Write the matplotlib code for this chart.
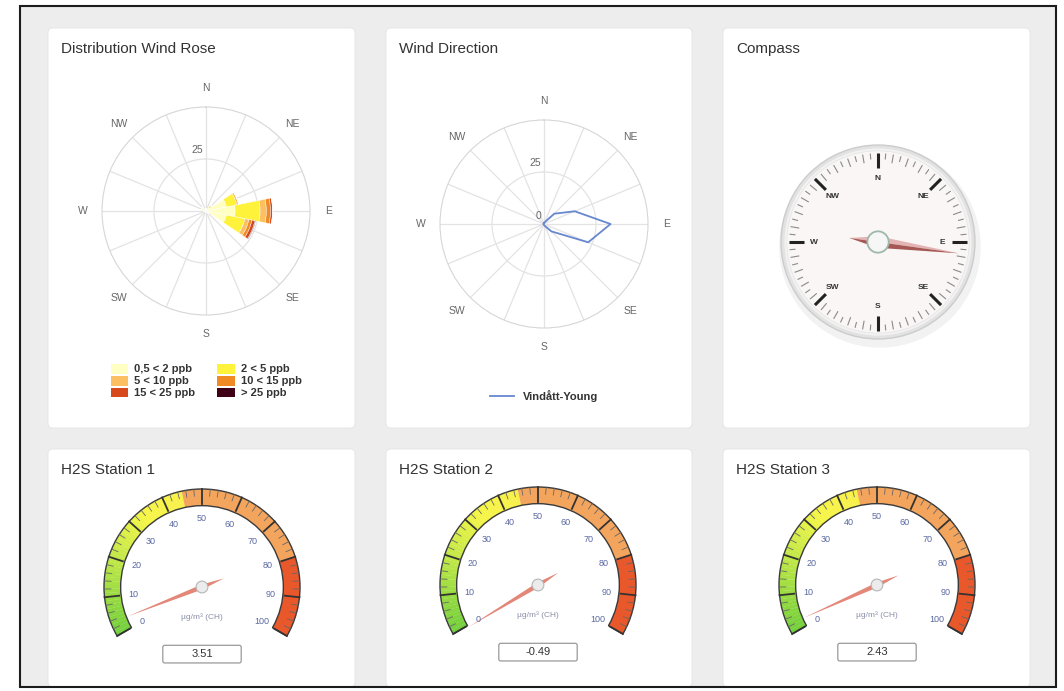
import numpy as np
import matplotlib.pyplot as plt
from matplotlib.patches import FancyBboxPatch, Rectangle, Wedge, Circle, Polygon
from matplotlib.lines import Line2D
from matplotlib.colors import to_rgb

plt.rcParams['font.family'] = ['Liberation Sans', 'DejaVu Sans']

# ---- data ----
directions = ['N', 'NNE', 'NE', 'ENE', 'E', 'ESE', 'SE', 'SSE',
              'S', 'SSW', 'SW', 'WSW', 'W', 'WNW', 'NW', 'NNW']
rose_labels = ['0,5 < 2 ppb', '2 < 5 ppb', '5 < 10 ppb', '10 < 15 ppb', '15 < 25 ppb', '> 25 ppb']
rose_colors = ['#ffffc4', '#fef23a', '#fcc062', '#f08a24', '#d7491c', '#3d0016']
rose_s1 = [1, 1, 2, 10, 14, 10, 1, 0.5, 0.5, 0.5, 0.5, 0.5, 1, 2, 2, 1]
rose_s2 = [0, 0, 1, 5, 12, 9, 0.5, 0, 0, 0, 0, 0, 0, 0.5, 0.5, 0]
rose_s3 = [0, 0, 0.5, 1, 3, 2, 0, 0, 0, 0, 0, 0, 0, 0, 0, 0]
rose_s4 = [0, 0, 0, 0, 2, 1.5, 0, 0, 0, 0, 0, 0, 0, 0, 0, 0]
rose_s5 = [0, 0, 0, 0, 1, 1.5, 0, 0, 0, 0, 0, 0, 0, 0, 0, 0]
rose_s6 = [0, 0, 0, 0, 0, 0.3, 0, 0, 0, 0, 0, 0, 0, 0, 0, 0]
rose_series = [rose_s1, rose_s2, rose_s3, rose_s4, rose_s5, rose_s6]

wind_dir_name = 'Vindått-Young'
wind_dir_values = [0.5, 1, 7, 16, 32, 23, 5, 1, 0.5, 0.3, 0.3, 0.3, 0.3, 0.3, 0.3, 0.3]

compass_heading = 98

gauge_titles = ['H2S Station 1', 'H2S Station 2', 'H2S Station 3']
gauge_values = [3.51, -0.49, 2.43]
gauge_unit = 'µg/m³ (CH)'

W, H = 1064, 691
fig = plt.figure(figsize=(10.64, 6.91), dpi=100)

# ---- background, panels ----
bg = fig.add_axes([0, 0, 1, 1])
bg.set_xlim(0, W)
bg.set_ylim(H, 0)
bg.axis('off')
bg.add_patch(Rectangle((20, 6), 1036, 681, facecolor='#ededed', edgecolor='none'))
panels = [(48, 28, 307, 400), (386, 28, 306, 400), (723, 28, 307, 400),
          (48, 449, 307, 238), (386, 449, 306, 238), (723, 449, 307, 238)]
for (x, y, w, h) in panels:
    bg.add_patch(FancyBboxPatch((x, y), w, h, boxstyle='round,pad=0,rounding_size=5',
                                facecolor='white', edgecolor='#e4e4e4', lw=0.6))
bg.add_patch(Rectangle((20, 6), 1036, 681, fill=False, edgecolor='#1c1c1c', lw=1.5, zorder=10))

titles = ['Distribution Wind Rose', 'Wind Direction', 'Compass'] + gauge_titles
for (x, y, w, h), t in zip(panels, titles):
    bg.text(x + 13, y + 21, t, fontsize=11, color='#333333', va='center', ha='left')


def px_ax(cx, cy, half, **kw):
    return fig.add_axes([(cx - half) / W, 1 - (cy + half) / H, 2 * half / W, 2 * half / H], **kw)


theta = np.deg2rad(np.arange(16) * 22.5)


def setup_polar(ax):
    ax.set_theta_zero_location('N')
    ax.set_theta_direction(-1)
    ax.set_ylim(0, 50)
    ax.set_yticks([25])
    ax.set_yticklabels([])
    ax.set_xticks(theta)
    ax.set_xticklabels([])
    ax.tick_params(length=0)
    ax.grid(color='#e3e3e3', lw=0.9)
    ax.spines['polar'].set_color('#d6d6d6')
    ax.set_axisbelow(True)
    for i, lab in enumerate(['N', 'NE', 'E', 'SE', 'S', 'SW', 'W', 'NW']):
        ax.text(np.deg2rad(i * 45), 59, lab, ha='center', va='center',
                fontsize=7.5, color='#666666', clip_on=False)
    ax.annotate('25', (0, 25), xytext=(-2, 3), textcoords='offset points',
                ha='right', va='bottom', fontsize=7.5, color='#666666')


# ---- wind rose ----
ax1 = px_ax(206, 211, 104, projection='polar')
setup_polar(ax1)
bottom = np.zeros(16)
handles = []
for vals, c, lab in zip(rose_series, rose_colors, rose_labels):
    vals = np.array(vals, dtype=float)
    ax1.bar(theta, vals, width=np.deg2rad(22.5), bottom=bottom, color=c,
            edgecolor='white', linewidth=0.3, zorder=3)
    bottom += vals
    handles.append(Rectangle((0, 0), 1, 1, facecolor=c, edgecolor='none'))
order = [0, 2, 4, 1, 3, 5]
leg = fig.legend([handles[i] for i in order], [rose_labels[i] for i in order], ncol=2,
                 loc='center', bbox_to_anchor=(206 / W, 1 - 381 / H), frameon=False,
                 prop={'size': 8, 'weight': 'bold'}, handlelength=1.6, handleheight=1.0,
                 columnspacing=2.0, labelspacing=0.1, handletextpad=0.5)
for t in leg.get_texts():
    t.set_color('#333333')

# ---- wind direction ----
ax2 = px_ax(544, 224, 104, projection='polar')
setup_polar(ax2)
ax2.annotate('0', (0, 0), xytext=(-2, 2), textcoords='offset points',
             ha='right', va='bottom', fontsize=7.5, color='#666666')
tt = np.append(theta, theta[0])
vv = np.append(wind_dir_values, wind_dir_values[0])
ax2.plot(tt, vv, color='#6787d0', lw=1.3, zorder=4)
leg2 = fig.legend([Line2D([0], [0], color='#6787d0', lw=1.3)], [wind_dir_name],
                  loc='center', bbox_to_anchor=(544 / W, 1 - 396 / H), frameon=False,
                  prop={'size': 8, 'weight': 'bold'}, handlelength=2.2)
for t in leg2.get_texts():
    t.set_color('#333333')

# ---- compass ----
ax3 = px_ax(878, 242, 112)
ax3.set_xlim(-1.155, 1.155)
ax3.set_ylim(-1.155, 1.155)
ax3.axis('off')
ax3.add_patch(Circle((0.02, -0.05), 1.04, facecolor='#000000', alpha=0.05, lw=0))
ax3.add_patch(Circle((0, 0), 1.0, facecolor='#e2e2e2', edgecolor='#cccccc', lw=1))
ax3.add_patch(Circle((0, 0), 0.965, facecolor='#f2f2f2', edgecolor='none'))
ax3.add_patch(Circle((0, 0), 0.94, facecolor='#faf6f6', edgecolor='#e4e4e4', lw=0.5))
for d in range(0, 360, 5):
    if d % 45 == 0:
        continue
    a = np.deg2rad(d)
    r0 = 0.83 if d % 10 == 0 else 0.86
    ax3.plot([r0 * np.sin(a), 0.91 * np.sin(a)], [r0 * np.cos(a), 0.91 * np.cos(a)],
             color='#8a8a8a', lw=0.8)
for i, lab in enumerate(['N', 'NE', 'E', 'SE', 'S', 'SW', 'W', 'NW']):
    a = np.deg2rad(i * 45)
    ax3.plot([0.76 * np.sin(a), 0.92 * np.sin(a)], [0.76 * np.cos(a), 0.92 * np.cos(a)],
             color='#222222', lw=2.2, solid_capstyle='butt')
    ax3.text(0.66 * np.sin(a), 0.66 * np.cos(a), lab, ha='center', va='center',
             fontsize=6, fontweight='bold', color='#333333')
h = np.deg2rad(compass_heading)
u = np.array([np.sin(h), np.cos(h)])
p = np.array([-u[1], u[0]])
tip = 0.84 * u
tail = -0.3 * u
ax3.add_patch(Polygon([tip, 0.06 * p, tail], closed=True, facecolor='#e4b4b4', edgecolor='none'))
ax3.add_patch(Polygon([tip, -0.06 * p, tail], closed=True, facecolor='#a65855', edgecolor='none'))
ax3.add_patch(Circle((0, 0), 0.11, facecolor='#f6f6f6', edgecolor='#9fb8aa', lw=1.3))

# ---- gauges ----
gauge_centers = [(202, 587), (538, 585), (877, 585)]
R_PX = 98


def ang(v):
    return 210 - 240 * v / 100.0


def lerp(c1, c2, t):
    a, b = np.array(to_rgb(c1)), np.array(to_rgb(c2))
    return a + (b - a) * t


stops = [(0, '#72cf3c'), (22, '#c9ea48'), (34, '#f6f547'), (45, '#f8f04a')]


def grad_color(v):
    for (v0, c0), (v1, c1) in zip(stops[:-1], stops[1:]):
        if v0 <= v <= v1:
            return lerp(c0, c1, (v - v0) / (v1 - v0))
    return to_rgb(stops[-1][1])


for (cx, cy), val in zip(gauge_centers, gauge_values):
    ax = px_ax(cx, cy, 120)
    lim = 120 / R_PX
    ax.set_xlim(-lim, lim)
    ax.set_ylim(-lim, lim)
    ax.axis('off')
    r_in = 0.83
    for v in np.arange(0, 45, 1.0):
        ax.add_patch(Wedge((0, 0), 1.0, ang(v + 1.05), ang(v), width=1 - r_in,
                           facecolor=grad_color(v + 0.5), edgecolor='none'))
    ax.add_patch(Wedge((0, 0), 1.0, ang(80), ang(45), width=1 - r_in, facecolor='#f4a55d', edgecolor='none'))
    ax.add_patch(Wedge((0, 0), 1.0, ang(100), ang(80), width=1 - r_in, facecolor='#e9582a', edgecolor='none'))
    ax.add_patch(Wedge((0, 0), 1.0, ang(100), ang(0), width=1 - r_in, fill=False,
                       edgecolor='#3a3a3a', lw=1.0))
    for v in range(0, 101, 2):
        a = np.deg2rad(ang(v))
        if v % 10 == 0:
            r0, lw, c = 0.85, 1.3, '#333333'
        else:
            r0, lw, c = 0.93, 0.6, '#666666'
        ax.plot([r0 * np.cos(a), np.cos(a)], [r0 * np.sin(a), np.sin(a)], color=c, lw=lw)
    for v in range(0, 101, 10):
        a = np.deg2rad(ang(v))
        ax.text(0.70 * np.cos(a), 0.70 * np.sin(a), str(v), ha='center', va='center',
                fontsize=6.5, color='#5a68a0')
    ax.text(0, -0.31, gauge_unit, ha='center', va='center', fontsize=6, color='#8a90a8')
    a = np.deg2rad(ang(val))
    u = np.array([np.cos(a), np.sin(a)])
    p = np.array([-u[1], u[0]])
    ax.add_patch(Polygon([0.82 * u, 0.025 * p, -0.24 * u, -0.025 * p], closed=True,
                         facecolor='#e38778', edgecolor='none'))
    ax.add_patch(Circle((0, 0), 0.06, facecolor='#ececec', edgecolor='#b5b5b5', lw=0.8))
    ax.add_patch(FancyBboxPatch((-0.4, -0.775), 0.8, 0.18, boxstyle='round,pad=0,rounding_size=0.02',
                                facecolor='white', edgecolor='#9a9a9a', lw=0.9))
    ax.text(0, -0.685, '%.2f' % val, ha='center', va='center', fontsize=8, color='#333333')

fig.savefig('out.png', dpi=100)
